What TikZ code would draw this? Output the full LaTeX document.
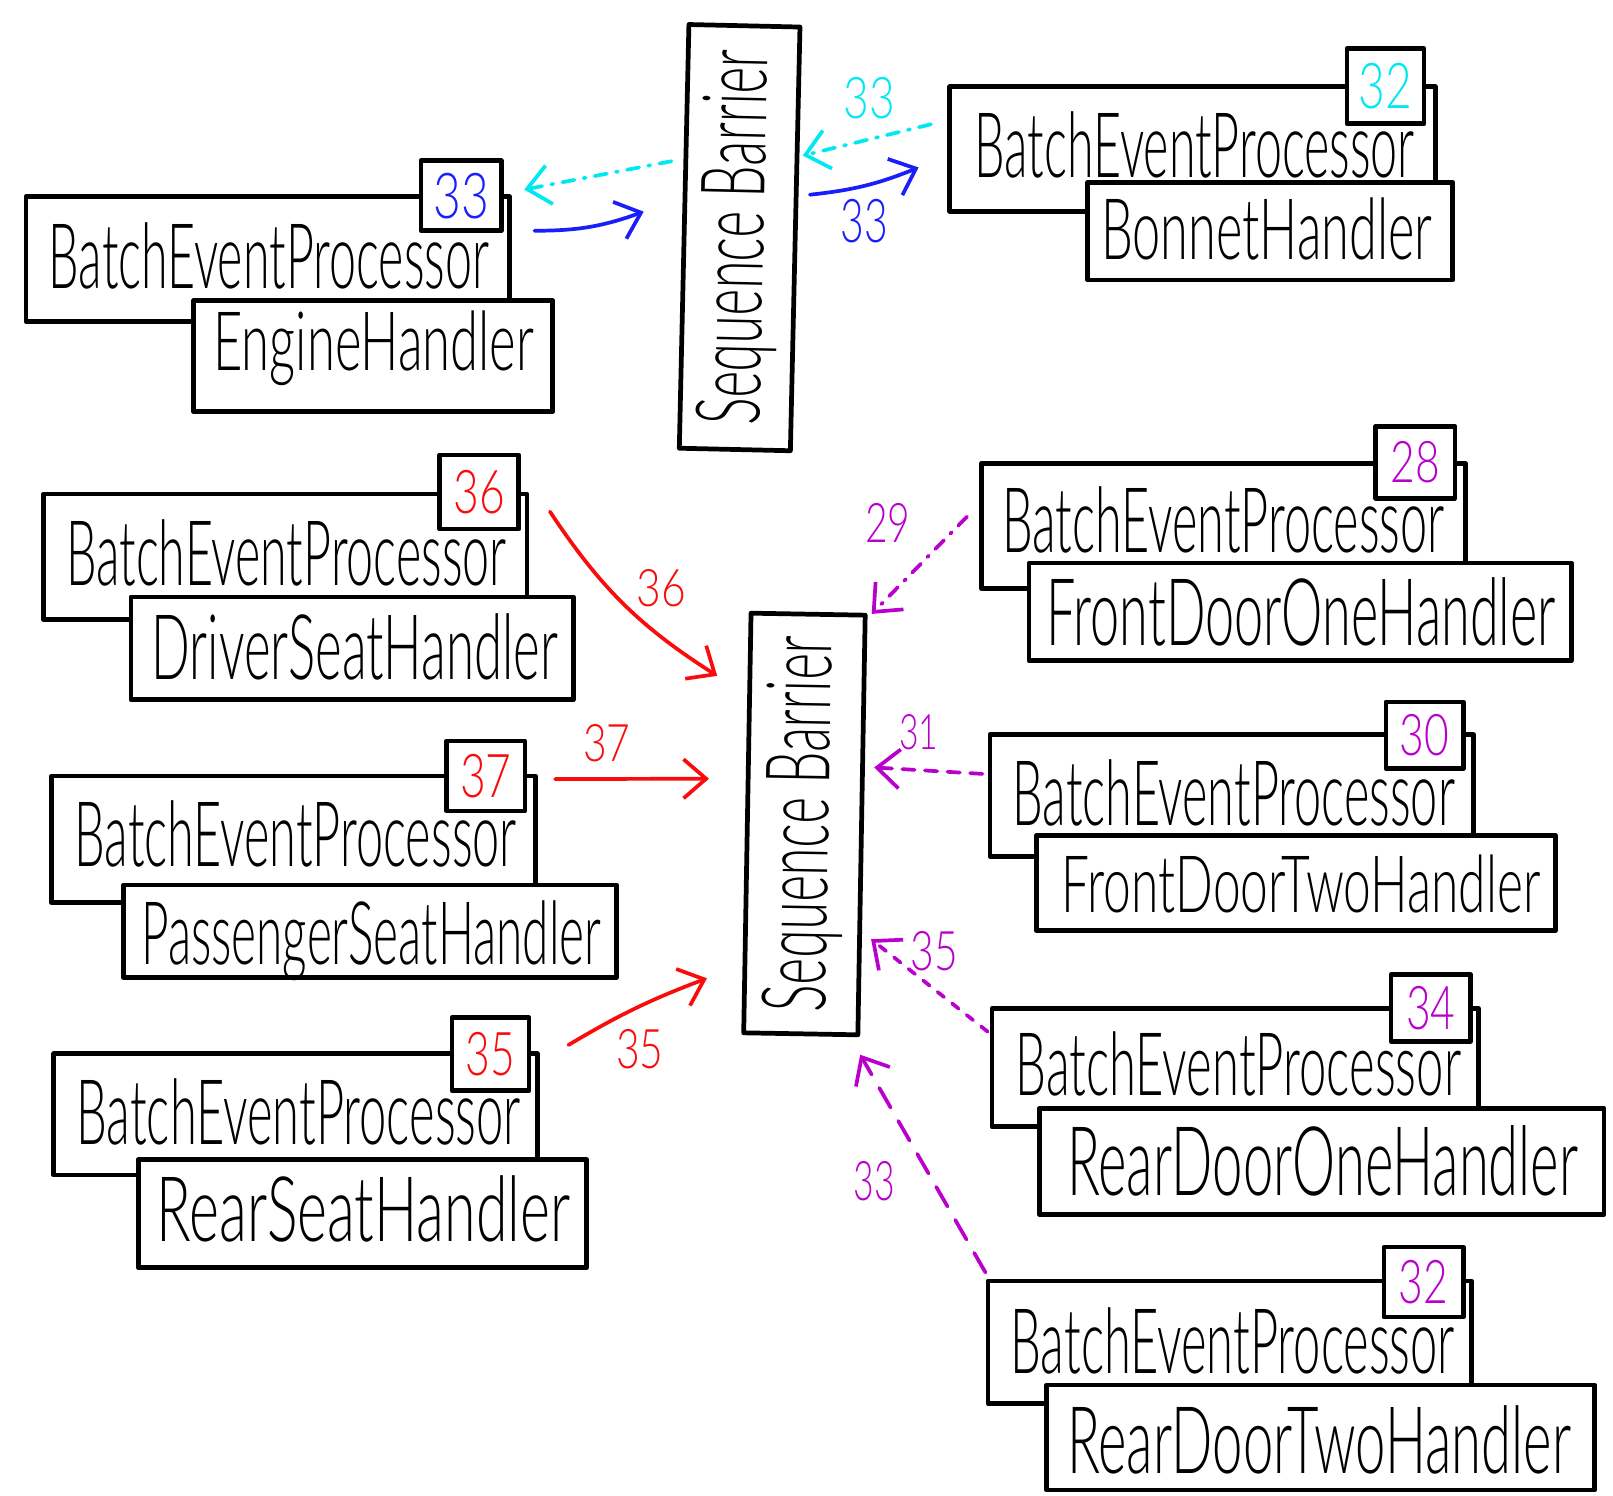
\documentclass[tikz,border=0pt]{standalone}
\usepackage{fontspec}
\IfFontExistsTF{Lato Light}{\setmainfont{Lato Light}}{\setmainfont{Carlito}}
\usepackage{graphicx}
\usetikzlibrary{arrows.meta,calc}

\definecolor{inkcyan}{RGB}{0,232,242}
\definecolor{inkblue}{RGB}{25,30,250}
\definecolor{inkred}{RGB}{250,12,12}
\definecolor{inkmag}{RGB}{185,0,205}

% text squeezed into a given width and height (in pt)
\newcommand{\hw}[3]{\resizebox{#1pt}{#2pt}{#3}}

% box with its text left-aligned on a given baseline:
% name, x1, y1, x2, y2, text left x, baseline y, content
\newcommand{\skbox}[8]{%
  \pgfmathsetmacro\bxm{#6-#2}%
  \pgfmathsetmacro\bxt{#4-#2-2*(#6-#2)}%
  \pgfmathsetmacro\bxh{#7-#3}%
  \pgfmathsetmacro\bxd{#5-#7}%
  \node[box, anchor=north west, align=left, inner xsep=\bxm pt, inner ysep=0pt,
        text width=\bxt pt, text height=\bxh pt, text depth=\bxd pt] (#1) at (#2,#3) {#8};
}

% small sequence tag: name, x1, y1, x2, y2, content
\newcommand{\tgbox}[6]{%
  \pgfmathsetmacro\bxw{#4-#2}%
  \pgfmathsetmacro\bxh{#5-#3}%
  \node[box, anchor=north west, minimum width=\bxw pt, minimum height=\bxh pt] (#1) at (#2,#3) {#6};
}

\begin{document}
\begin{tikzpicture}[x=1pt,y=-1pt,
  box/.style={draw=black, line width=4.6pt, fill=white, inner sep=0pt, line join=round},
  flow/.style={line width=3.6pt, line cap=round, -{Straight Barb[length=22pt,width=38pt]}},
  dashdotline/.style={dash pattern=on 12pt off 9pt on 2pt off 9pt},
  dashline/.style={dash pattern=on 12pt off 10pt},
  shortdash/.style={dash pattern=on 8pt off 10pt},
  longdash/.style={dash pattern=on 22pt off 15pt},
  lbl/.style={inner sep=0pt},
]
\fill[white] (0,0) rectangle (1568,1454);
\useasboundingbox (0,0) rectangle (1568,1454);

% sequence barriers
\node[box, minimum width=108pt, minimum height=412pt, rotate=-1.3] (sbA) at (719,231)
  {\rotatebox{90}{\hw{365}{62}{Sequence Barrier}}};
\node[box, minimum width=111pt, minimum height=408pt, rotate=-1.0] (sbB) at (782,801)
  {\rotatebox{90}{\hw{365}{62}{Sequence Barrier}}};

% engine
\skbox{bpEng}{23}{189}{493}{310}{45}{278}{\hw{428}{64}{BatchEventProcessor}}
\tgbox{tgEng}{407}{154}{485}{222}{\color{inkblue}\hw{54}{44}{33}}
\skbox{hEng}{186}{290}{535}{398}{205}{358}{\hw{312}{58}{EngineHandler}}

% bonnet
\skbox{bpBon}{921}{82}{1393}{203}{945}{170}{\hw{428}{64}{BatchEventProcessor}}
\tgbox{tgBon}{1307}{45}{1382}{118}{\color{inkcyan}\hw{52}{44}{32}}
\skbox{hBon}{1055}{175}{1410}{270}{1068}{250}{\hw{322}{60}{BonnetHandler}}

% driver seat
\skbox{bpDrv}{40}{478}{510}{600}{62}{567}{\hw{428}{64}{BatchEventProcessor}}
\tgbox{tgDrv}{425}{440}{502}{512}{\color{inkred}\hw{50}{42}{36}}
\skbox{hDrv}{125}{578}{555}{678}{145}{658}{\hw{395}{64}{DriverSeatHandler}}

% passenger seat
\skbox{bpPas}{48}{752}{518}{875}{70}{840}{\hw{430}{64}{BatchEventProcessor}}
\tgbox{tgPas}{432}{718}{508}{786}{\color{inkred}\hw{50}{42}{37}}
\skbox{hPas}{118}{858}{597}{948}{135}{935}{\hw{447}{62}{PassengerSeatHandler}}

% rear seat
\skbox{bpRS}{50}{1022}{520}{1140}{72}{1110}{\hw{432}{64}{BatchEventProcessor}}
\tgbox{tgRS}{437}{987}{512}{1058}{\color{inkred}\hw{48}{42}{35}}
\skbox{hRS}{132}{1125}{568}{1230}{150}{1205}{\hw{402}{64}{RearSeatHandler}}

% front door one
\skbox{bpFD1}{952}{448}{1422}{570}{972}{535}{\hw{430}{64}{BatchEventProcessor}}
\tgbox{tgFD1}{1335}{412}{1412}{482}{\color{inkmag}\hw{48}{40}{28}}
\skbox{hFD1}{998}{545}{1525}{640}{1015}{625}{\hw{495}{66}{FrontDoorOneHandler}}

% front door two
\skbox{bpFD2}{960}{712}{1430}{830}{982}{800}{\hw{430}{64}{BatchEventProcessor}}
\tgbox{tgFD2}{1345}{680}{1420}{745}{\color{inkmag}\hw{48}{40}{30}}
\skbox{hFD2}{1005}{810}{1510}{902}{1030}{885}{\hw{465}{56}{FrontDoorTwoHandler}}

% rear door one
\skbox{bpRD1}{962}{978}{1435}{1093}{985}{1063}{\hw{433}{62}{BatchEventProcessor}}
\tgbox{tgRD1}{1350}{945}{1427}{1010}{\color{inkmag}\hw{48}{42}{34}}
\skbox{hRD1}{1008}{1075}{1557}{1178}{1035}{1160}{\hw{497}{68}{RearDoorOneHandler}}

% rear door two
\skbox{bpRD2}{958}{1243}{1428}{1362}{980}{1333}{\hw{432}{64}{BatchEventProcessor}}
\tgbox{tgRD2}{1343}{1210}{1420}{1278}{\color{inkmag}\hw{48}{42}{32}}
\skbox{hRD2}{1015}{1344}{1548}{1446}{1035}{1430}{\hw{490}{66}{RearDoorTwoHandler}}

% connectors around the upper barrier
\draw[flow, inkcyan, dashdotline] ($(sbA.west)+(-10,-73)$) -- ($(tgEng.east)+(20,-6)$);
\draw[flow, inkblue] ($(tgEng.east)+(30,34)$) to[bend right=10] ($(sbA.west)+(-37,-24)$);
\draw[flow, inkcyan, dashdotline] ($(bpBon.west)+(-16,-24)$) -- ($(sbA.east)+(5,-81)$);
\node[lbl] (lb1) at (845,95) {\color{inkcyan}\hw{50}{40}{33}};
\draw[flow, inkblue] ($(sbA.east)+(12,-43)$) to[bend right=8] ($(bpBon.west)+(-28,18)$);
\node[lbl] (lb2) at (840,215) {\color{inkblue}\hw{46}{42}{33}};

% connectors around the lower barrier
\draw[flow, inkred] ($(tgDrv.east)+(28,19)$) to[bend right=12] ($(sbB.west)+(-27,-143)$);
\node[lbl] (lb3) at (643,572) {\color{inkred}\hw{48}{36}{36}};
\draw[flow, inkred] ($(tgPas.east)+(27,3)$) -- ($(sbB.west)+(-35,-43)$);
\node[lbl] (lb4) at (590,722) {\color{inkred}\hw{46}{36}{37}};
\draw[flow, inkred] ($(tgRS.east)+(36,-9)$) to[bend left=5] ($(sbB.west)+(-37,151)$);
\node[lbl] (lb5) at (622,1020) {\color{inkred}\hw{46}{38}{35}};

\draw[flow, inkmag, dashdotline] ($(bpFD1.west)+(-12,-9)$) -- ($(sbB.north east)+(4,1)$);
\node[lbl] (lb6) at (863,508) {\color{inkmag}\hw{44}{38}{29}};
\draw[flow, inkmag, dashline] ($(bpFD2.west)+(-5,-21)$) -- ($(sbB.east)+(10,-56)$);
\node[lbl] (lb7) at (893,712) {\color{inkmag}\hw{38}{34}{31}};
\draw[flow, inkmag, shortdash] ($(bpRD1.west)+(-2,-35)$) -- ($(sbB.east)+(7,111)$);
\node[lbl] (lb8) at (908,925) {\color{inkmag}\hw{46}{38}{35}};
\draw[flow, inkmag, longdash] ($(bpRD2.north west)+(0,-6)$) -- ($(sbB.south east)+(0,17)$);
\node[lbl] (lb9) at (850,1148) {\color{inkmag}\hw{40}{38}{33}};
\end{tikzpicture}
\end{document}
